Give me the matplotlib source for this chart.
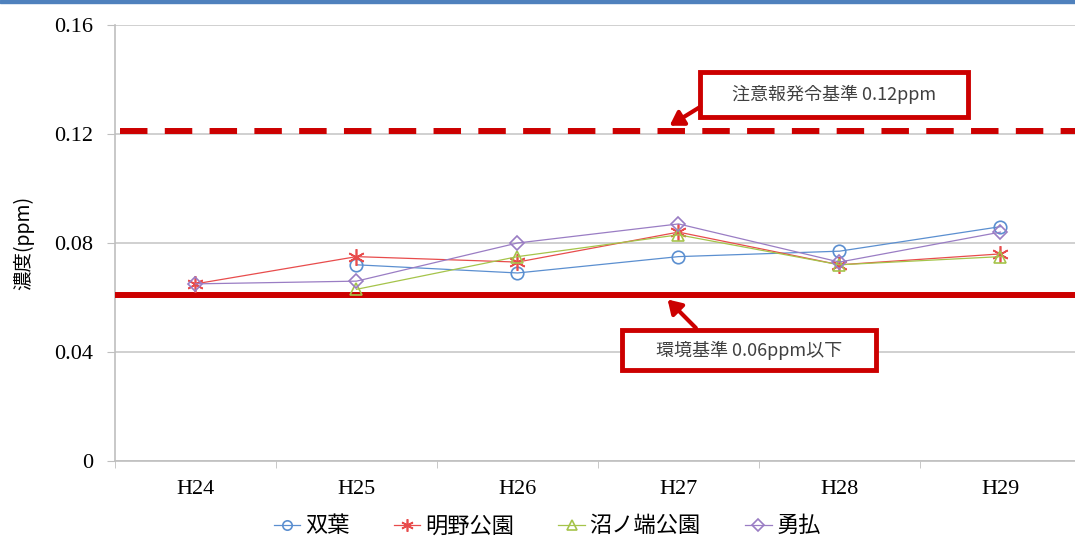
import numpy as np
import matplotlib
matplotlib.use("Agg")
import matplotlib.pyplot as plt
from matplotlib.patches import Rectangle

plt.rcParams['font.family'] = ['Noto Sans CJK JP', 'DejaVu Sans']

years = ["H24", "H25", "H26", "H27", "H28", "H29"]
futaba = [np.nan, 0.072, 0.069, 0.075, 0.077, 0.086]
akeno = [0.065, 0.075, 0.073, 0.084, 0.072, 0.076]
numanohata = [np.nan, 0.063, 0.075, 0.083, 0.072, 0.075]
yufutsu = [0.065, 0.066, 0.080, 0.087, 0.073, 0.084]
names = ["双葉", "明野公園", "沼ノ端公園", "勇払"]
warn_level = 0.121
env_level = 0.061

colors = ["#5B8FD0", "#E84C4C", "#A5C44A", "#9A7DC4"]
markers = ["o", (6, 2, 0), "^", "D"]
msizes = [9, 12, 9, 7.5]

fig = plt.figure(figsize=(10.75, 5.41), dpi=100)
ax = fig.add_axes([115 / 1075, 1 - 461 / 541, 966 / 1075, 436 / 541])

# blue strip at the top of the picture
fig.patches.append(Rectangle((0, 1 - 3 / 541), 1, 3 / 541, transform=fig.transFigure,
                             color="#4F81BD", zorder=0))

x = np.arange(len(years))
series = [futaba, akeno, numanohata, yufutsu]
for vals, name, c, m, ms in zip(series, names, colors, markers, msizes):
    ax.plot(x, vals, color=c, lw=0.9, marker=m, ms=ms, mfc="none", mec=c, mew=1.2,
            label=name, zorder=4)

# standard lines
ax.axhline(warn_level, xmin=5 / 966, color="#CC0000", lw=4.3, dashes=(4.6, 2.9), zorder=3)
ax.axhline(env_level, color="#CC0000", lw=4.3, zorder=3)

ax.set_xlim(-0.5, 5.5)
ax.set_ylim(0, 0.16)
yt = [0, 0.04, 0.08, 0.12, 0.16]
ax.set_yticks(yt)
ax.set_yticklabels(["0"] + ["%.2f" % v for v in yt[1:]], family="Liberation Serif", fontsize=16)
ax.set_xticks(x)
ax.set_xticklabels(years, family="Liberation Serif", fontsize=16)
ax.set_xticks(np.arange(-0.5, 6, 1), minor=True)
ax.tick_params(axis="x", which="major", length=0, pad=14)
ax.tick_params(axis="x", which="minor", length=5, color="#BFBFBF")
ax.tick_params(axis="y", length=6, color="#BFBFBF", pad=10)
ax.grid(axis="y", color="#C8C8C8", lw=1.2)
ax.set_axisbelow(True)
for s in ["top", "right"]:
    ax.spines[s].set_visible(False)
for s in ["left", "bottom"]:
    ax.spines[s].set_color("#BFBFBF")
    ax.spines[s].set_linewidth(1.2)

ax.set_ylabel("濃度(ppm)", fontsize=14, labelpad=14)

# annotation boxes
def note_box(x0, x1, y0, y1, text, tip, tail):
    ax.add_patch(Rectangle((x0, y0), x1 - x0, y1 - y0, fill=True, fc="white",
                           ec="#CC0000", lw=3.5, zorder=6))
    ax.text((x0 + x1) / 2, (y0 + y1) / 2, text, ha="center", va="center",
            fontsize=13, color="#404040", zorder=7,
            family=["Noto Sans CJK JP", "DejaVu Sans"])
    ax.annotate("", xy=tip, xytext=tail, zorder=7,
                arrowprops=dict(arrowstyle="-|>,head_length=0.8,head_width=0.5",
                                color="#CC0000", lw=3))

note_box(3.134, 4.798, 0.1262, 0.1428, "注意報発令基準 0.12ppm", (2.93, 0.1225), (3.15, 0.1305))
note_box(2.649, 4.227, 0.0334, 0.0481, "環境基準 0.06ppm以下", (2.92, 0.0600), (3.12, 0.0481))

fig.legend(loc="center", bbox_to_anchor=(0.509, 0.028), ncol=4, frameon=False,
           fontsize=16, handlelength=1.2, columnspacing=2.0, handletextpad=0.2,
           markerscale=0.75)

fig.savefig("out.png", dpi=100)
